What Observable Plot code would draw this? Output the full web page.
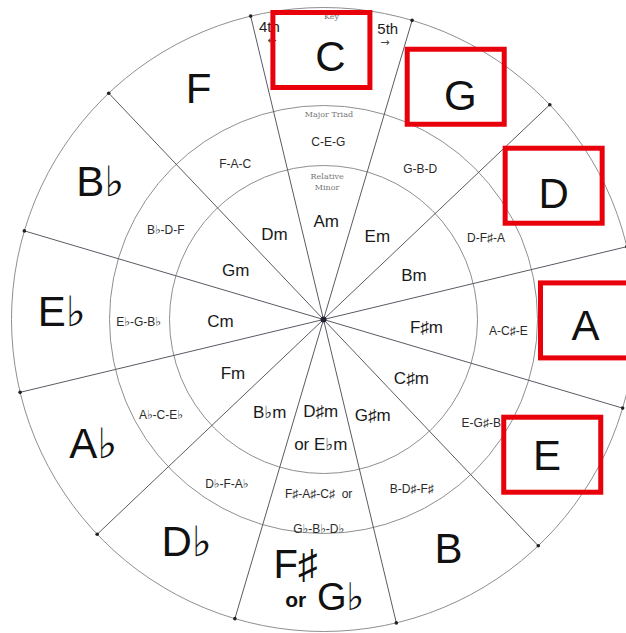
<!DOCTYPE html>
<html><head><meta charset="utf-8">
<script src="https://cdn.jsdelivr.net/npm/d3@7"></script>
<script src="https://cdn.jsdelivr.net/npm/@observablehq/plot@0.6"></script>
<style>body{margin:0;background:#fff}#chart svg{display:block}</style>
</head><body><div id="chart"></div>
<script>
// ---- data ----
const keys = ["C","G","D","A","E","B","F♯ or G♭","D♭","A♭","E♭","B♭","F"];
const triads = ["C-E-G","G-B-D","D-F♯-A","A-C♯-E","E-G♯-B","B-D♯-F♯","F♯-A♯-C♯  or\nG♭-B♭-D♭","D♭-F-A♭","A♭-C-E♭","E♭-G-B♭","B♭-D-F","F-A-C"];
const minors = ["Am","Em","Bm","F♯m","C♯m","G♯m","D♯m\nor E♭m","B♭m","Fm","Cm","Gm","Dm"];
const highlighted = ["C","G","D","A","E"];
const ringNames = ["Key","Major Triad","Relative\nMinor"];
const directions = ["4th","5th"];
const arrows = ["←","→"];

// ---- geometry ----
const W = 626, H = 633, CX = 323, CY = 319;
const ROT = 1.5, STEP = 360 / keys.length;
const R_OUT = 312, R_MID = 214, R_IN = 154;
const rad = a => a * Math.PI / 180;
const px = (a, r) => r * Math.sin(rad(a));
const py = (a, r) => r * Math.cos(rad(a));
const ang = i => i * STEP + ROT;
const FONT = "Liberation Sans, Arial, DejaVu Sans, sans-serif";

const rows = keys.map((key, i) => ({key, triad: triads[i], minor: minors[i], i}));
const single = rows.filter(d => !d.key.includes(" or "));
const dual = rows.filter(d => d.key.includes(" or "));
const boxed = rows.filter(d => highlighted.includes(d.key));
const BW = 48.5, BH = 37.5, BR = 269, BA = -1.2, BDX = -3;

const chart = Plot.plot({
  width: W, height: H, margin: 0,
  style: {background: "white", overflow: "visible"},
  x: {domain: [-CX, W - CX], axis: null},
  y: {domain: [-(H - CY), CY], axis: null},
  marks: [
    ...[R_OUT, R_MID, R_IN].map(r => Plot.dot([0], {x: () => 0, y: () => 0, r, fill: "none", stroke: "#8f8f8f", strokeWidth: 1})),
    Plot.link(rows, {x1: () => 0, y1: () => 0,
      x2: d => px(ang(d.i) + STEP / 2, R_OUT), y2: d => py(ang(d.i) + STEP / 2, R_OUT),
      stroke: "#5a5a66", strokeWidth: 1}),
    Plot.dot(rows, {x: d => px(ang(d.i) + STEP / 2, R_OUT), y: d => py(ang(d.i) + STEP / 2, R_OUT), r: 1.8, fill: "#222"}),
    Plot.dot([0], {x: () => 0, y: () => 0, r: 3, fill: "#223"}),
    // major keys
    Plot.text(single, {x: d => px(ang(d.i), 262), y: d => py(ang(d.i), 262), text: "key",
      fontSize: 42, fontFamily: FONT, fill: "#111"}),
    Plot.text(dual, {x: d => px(ang(d.i), 262), y: d => py(ang(d.i), 262), text: d => d.key.split(" or ")[0],
      dx: -21, dy: -16, fontSize: 40, fontFamily: FONT, fill: "#111"}),
    Plot.text(dual, {x: d => px(ang(d.i), 262), y: d => py(ang(d.i), 262), text: () => "or",
      dx: -21, dy: 19, fontSize: 21, fontWeight: "bold", fontFamily: FONT, fill: "#111"}),
    Plot.text(dual, {x: d => px(ang(d.i), 262), y: d => py(ang(d.i), 262), text: d => d.key.split(" or ")[1],
      dx: 24, dy: 16, fontSize: 38, fontFamily: FONT, fill: "#111"}),
    // triads
    Plot.text(rows, {x: d => px(ang(d.i), 185), y: d => py(ang(d.i), 185), text: "triad",
      fontSize: 12, lineHeight: 2.9, fontFamily: FONT, fill: "#2a2a2a"}),
    // relative minors
    Plot.text(rows, {x: d => px(ang(d.i), 103), y: d => py(ang(d.i), 103), text: "minor",
      fontSize: 17, lineHeight: 1.95, fontFamily: FONT, fill: "#1a1a1a"}),
    // ring captions
    Plot.text(ringNames, {x: (d, i) => px(ROT, [304, 206, 139][i]), y: (d, i) => py(ROT, [304, 206, 139][i]), text: d => d,
      fontSize: 8, lineHeight: 1.4, fontFamily: "DejaVu Serif, serif", fill: "#777"}),
    // 4th / 5th
    Plot.text(directions, {x: (d, i) => px(ROT + (i ? 11 : -12), 297), y: (d, i) => py(ROT + (i ? 11 : -12), 297), text: d => d,
      fontSize: 15, fontFamily: FONT, fill: "#222"}),
    Plot.text(arrows, {x: (d, i) => px(ROT + (i ? 11 : -12), 284), y: (d, i) => py(ROT + (i ? 11 : -12), 284), text: d => d,
      fontSize: 11, fontFamily: "DejaVu Sans, sans-serif", fill: "#444"}),
    // highlight boxes
    Plot.rect(boxed, {
      x1: d => px(ang(d.i) + BA, BR) + BDX - BW, x2: d => px(ang(d.i) + BA, BR) + BDX + BW,
      y1: d => py(ang(d.i) + BA, BR) - BH, y2: d => py(ang(d.i) + BA, BR) + BH,
      fill: "none", stroke: "#e8000b", strokeWidth: 5})
  ]
});
document.getElementById("chart").appendChild(chart);
</script></body></html>
